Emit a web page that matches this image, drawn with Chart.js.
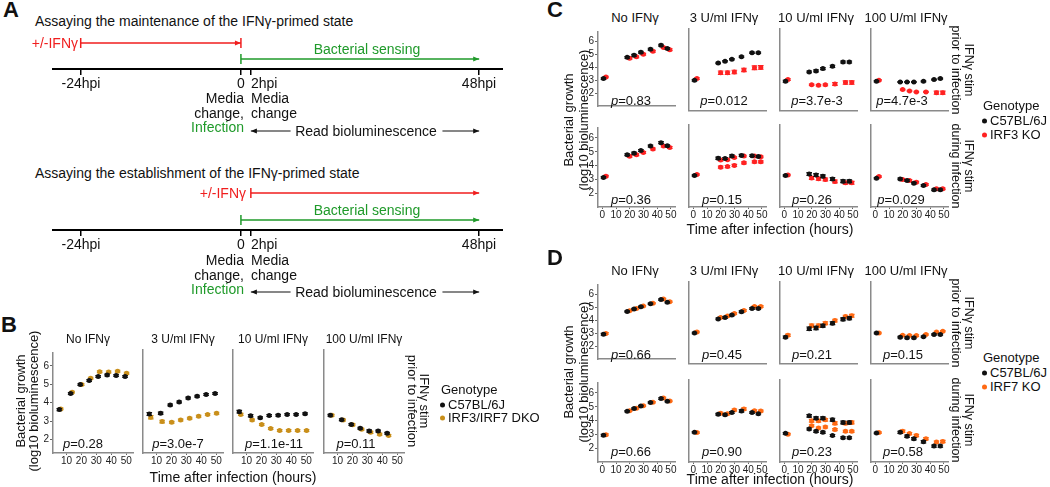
<!DOCTYPE html>
<html>
<head>
<meta charset="utf-8">
<script src="https://cdn.jsdelivr.net/npm/chart.js@4.4.1/dist/chart.umd.min.js"></script>
<style>
  body { margin: 0; width: 1050px; height: 487px; overflow: hidden; position: relative; background: #fff;
         font-family: "Liberation Sans", Arial, sans-serif; color: #111; }
  canvas { position: absolute; }
  .t { position: absolute; white-space: pre; line-height: 1; }
  .dot { display: inline-block; width: 5px; height: 5px; border-radius: 50%; margin-right: 3px; vertical-align: middle; }
</style>
</head>
<body>
<script>
// ---------- panel A: timelines, in hours post infection ----------
const hpiTicks = [-24, 0, 2, 48];
const hpiTickLabels = ['-24hpi', '0', '2hpi', '48hpi'];
const timelineRange = [-28.3, 52.8];
const maintIfn = [-24, 0];
const establishIfn = [2, 48];
const sensing = [0, 48];
const readLeft = [2, 10];
const readRight = [40.6, 48];

// ---------- panels B-D ----------
const conditions = ['No IFNγ', '3 U/ml IFNγ', '10 U/ml IFNγ', '100 U/ml IFNγ'];

// B: IFNγ before infection, C57BL/6J vs IRF3/IRF7 DKO
const bHours = [5.7, 13.3, 19.7, 25.7, 31.7, 37.7, 43.7, 49.7];
const bWt = [
  [3.62, 4.50, 4.98, 5.20, 5.42, 5.50, 5.48, 5.42],
  [3.32, 3.36, 3.80, 3.96, 4.16, 4.26, 4.35, 4.40],
  [3.44, 3.23, 3.12, 3.24, 3.25, 3.30, 3.30, 3.33],
  [3.25, 3.02, 2.77, 2.57, 2.42, 2.42, 2.30]
];
const bDko = [
  [3.66, 4.57, 4.98, 5.33, 5.68, 5.67, 5.71, 5.60],
  [3.15, 2.92, 2.88, 3.00, 3.10, 3.20, 3.30, 3.36],
  [3.30, 3.00, 2.76, 2.56, 2.45, 2.45, 2.45, 2.45],
  [3.25, 3.00, 2.75, 2.52, 2.35, 2.25, 2.18]
];
const bWtErr = [
  [0.06, 0.05, 0.05, 0.05, 0.05, 0.05, 0.05, 0.05],
  [0.08, 0.06, 0.05, 0.05, 0.05, 0.05, 0.05, 0.05],
  [0.07, 0.06, 0.05, 0.05, 0.05, 0.05, 0.05, 0.05],
  [0.05, 0.05, 0.05, 0.05, 0.06, 0.05, 0.05]
];
const bDkoErr = [
  [0.05, 0.05, 0.05, 0.05, 0.05, 0.05, 0.05, 0.05],
  [0.09, 0.07, 0.05, 0.05, 0.05, 0.05, 0.05, 0.05],
  [0.06, 0.05, 0.05, 0.05, 0.05, 0.05, 0.05, 0.05],
  [0.05, 0.05, 0.05, 0.05, 0.06, 0.05, 0.05]
];
const bP = ['0.28', '3.0e-7', '1.1e-11', '0.11'];

// C and D share the sampling times
const cdHours = [1.7, 19, 24, 29, 36, 43.7, 48.3];

// C: C57BL/6J vs IRF3 KO
const cPriorWt = [
  [3.12, 4.76, 4.92, 5.16, 5.39, 5.70, 5.44],
  [3.12, 4.34, 4.45, 4.60, 4.78, 5.06, 5.06],
  [3.05, 3.71, 3.78, 3.94, 4.10, 4.40, 4.40],
  [3.05, 3.00, 3.00, 3.00, 3.05, 3.17, 3.24]
];
const cPriorKo = [
  [3.24, 4.69, 4.80, 5.00, 5.23, 5.53, 5.35],
  [3.24, 3.65, 3.65, 3.70, 3.85, 4.00, 4.02],
  [3.17, 2.80, 2.77, 2.80, 2.86, 2.96, 2.96],
  [3.12, 2.47, 2.37, 2.30, 2.30, 2.25, 2.25]
];
const cPriorWtErr = [
  [0.06, 0.07, 0.07, 0.07, 0.07, 0.07, 0.07],
  [0.06, 0.05, 0.05, 0.05, 0.05, 0.05, 0.05],
  [0.07, 0.06, 0.07, 0.07, 0.08, 0.07, 0.07],
  [0.05, 0.04, 0.04, 0.04, 0.04, 0.04, 0.04]
];
const cPriorKoErr = [
  [0.06, 0.07, 0.07, 0.07, 0.07, 0.07, 0.07],
  [0.06, 0.12, 0.12, 0.12, 0.12, 0.13, 0.13],
  [0.06, 0.05, 0.05, 0.06, 0.10, 0.12, 0.12],
  [0.05, 0.04, 0.04, 0.04, 0.04, 0.11, 0.11]
];
const cDuringWt = [
  [3.14, 4.79, 4.90, 5.09, 5.41, 5.66, 5.43],
  [3.19, 4.40, 4.38, 4.56, 4.60, 4.58, 4.53],
  [3.19, 3.30, 3.23, 3.14, 2.95, 2.80, 2.80],
  [3.00, 2.96, 2.85, 2.66, 2.50, 2.20, 2.20]
];
const cDuringKo = [
  [3.23, 4.67, 4.79, 4.95, 5.20, 5.41, 5.31],
  [3.26, 4.28, 4.30, 4.45, 4.55, 4.55, 4.50],
  [3.23, 3.03, 2.97, 2.92, 2.78, 2.69, 2.69],
  [3.12, 2.92, 2.85, 2.73, 2.57, 2.27, 2.27]
];
const cDuringWtErr = [
  [0.06, 0.07, 0.07, 0.07, 0.07, 0.07, 0.07],
  [0.05, 0.08, 0.07, 0.08, 0.07, 0.06, 0.06],
  [0.05, 0.10, 0.10, 0.10, 0.10, 0.10, 0.10],
  [0.05, 0.06, 0.06, 0.06, 0.06, 0.06, 0.06]
];
const cDuringKoErr = [
  [0.06, 0.07, 0.07, 0.07, 0.07, 0.07, 0.07],
  [0.05, 0.06, 0.06, 0.06, 0.06, 0.06, 0.06],
  [0.05, 0.10, 0.10, 0.10, 0.10, 0.10, 0.10],
  [0.05, 0.06, 0.06, 0.06, 0.06, 0.06, 0.06]
];
// second IRF3 KO experiment, 3 U/ml during infection
const cDuringKoRep2 = [null, 3.78, 3.82, 3.90, 4.08, 4.15, 4.15];
const cPriorP = ['0.83', '0.012', '3.7e-3', '4.7e-3'];
const cDuringP = ['0.36', '0.15', '0.26', '0.029'];

// D: C57BL/6J vs IRF7 KO
const dPriorWt = [
  [2.91, 4.67, 4.86, 5.04, 5.27, 5.59, 5.38],
  [3.14, 4.13, 4.22, 4.40, 4.63, 4.86, 4.86],
  [2.85, 3.44, 3.49, 3.65, 3.83, 4.10, 4.17],
  [3.14, 2.85, 2.80, 2.80, 2.87, 3.03, 3.03]
];
const dPriorKo = [
  [2.98, 4.72, 4.90, 5.09, 5.31, 5.63, 5.43],
  [3.21, 4.22, 4.33, 4.51, 4.72, 5.00, 5.00],
  [2.98, 3.65, 3.65, 3.83, 4.01, 4.29, 4.35],
  [3.14, 2.98, 2.96, 2.96, 3.03, 3.21, 3.26]
];
const dDuringWt = [
  [2.93, 4.68, 4.87, 5.05, 5.30, 5.59, 5.39],
  [3.07, 4.33, 4.29, 4.45, 4.56, 4.45, 4.36],
  [3.00, 4.22, 4.06, 4.06, 3.95, 3.76, 3.76],
  [3.03, 3.07, 2.80, 2.62, 2.41, 2.11, 2.11]
];
const dDuringKo = [
  [2.97, 4.71, 4.90, 5.08, 5.33, 5.63, 5.42],
  [3.05, 4.40, 4.36, 4.63, 4.70, 4.58, 4.56],
  [2.94, 3.87, 3.87, 3.94, 3.71, 3.71, 3.76],
  [3.05, 3.14, 2.98, 2.85, 2.62, 2.39, 2.43]
];
// second experiment, 10 U/ml during infection
const dDuringWtRep2 = [null, 3.30, 3.14, 3.07, 2.85, 2.69, 2.69];
const dDuringKoRep2 = [null, 3.53, 3.37, 3.44, 3.26, 3.14, 3.14];
const dPriorErr = [
  [0.07, 0.05, 0.05, 0.05, 0.05, 0.06, 0.05],
  [0.05, 0.06, 0.06, 0.06, 0.06, 0.06, 0.06],
  [0.08, 0.12, 0.12, 0.10, 0.10, 0.10, 0.10],
  [0.05, 0.06, 0.06, 0.06, 0.05, 0.05, 0.05]
];
const dDuringErr = [
  [0.07, 0.05, 0.05, 0.05, 0.05, 0.06, 0.05],
  [0.05, 0.06, 0.06, 0.07, 0.08, 0.06, 0.06],
  [0.06, 0.09, 0.09, 0.09, 0.10, 0.10, 0.10],
  [0.05, 0.08, 0.08, 0.08, 0.08, 0.08, 0.08]
];
const dPriorP = ['0.66', '0.45', '0.21', '0.15'];
const dDuringP = ['0.66', '0.90', '0.23', '0.58'];

const cBlack = '#111111';
const cGold = '#c98f1a';
const cRed = '#ff2222';
const cOrange = '#ff6a14';
const cAxisRed = '#f01e1e';
const cGreen = '#1f9a2a';

Chart.defaults.font.family = '"Liberation Sans", Arial, sans-serif';
Chart.defaults.color = '#333';

// ---------- helpers ----------
function label(html, x, y, o = {}) {
  const d = document.createElement('div');
  d.className = 't';
  d.innerHTML = html;
  const ax = o.align === 'left' ? '0' : o.align === 'right' ? '-100%' : '-50%';
  d.style.left = x + 'px';
  d.style.top = y + 'px';
  d.style.fontSize = (o.size || 13) + 'px';
  if (o.color) d.style.color = o.color;
  if (o.bold) d.style.fontWeight = 'bold';
  if (o.lh) d.style.lineHeight = o.lh + 'px';
  d.style.textAlign = 'center';
  d.style.transform = 'translate(' + ax + ',-50%)' + (o.rot ? ' rotate(' + o.rot + 'deg)' : '');
  document.body.appendChild(d);
}

function addCanvas(left, top, w, h) {
  const cv = document.createElement('canvas');
  cv.width = w; cv.height = h;
  cv.style.left = left + 'px'; cv.style.top = top + 'px';
  cv.style.width = w + 'px'; cv.style.height = h + 'px';
  document.body.appendChild(cv);
  return cv;
}

// the schematic compresses the pre-infection stretch
const preScale = 1.345;
const u = h => (h < 0 ? h * preScale : h);

const arrowPlugin = {
  id: 'arrows',
  afterDatasetsDraw(chart) {
    const ctx = chart.ctx;
    chart.data.datasets.forEach((ds, i) => {
      const pts = chart.getDatasetMeta(i).data;
      const a = pts[0], b = pts[pts.length - 1];
      ctx.save();
      ctx.strokeStyle = ds.borderColor;
      ctx.fillStyle = ds.borderColor;
      ctx.lineWidth = 1.5;
      const bar = p => { ctx.beginPath(); ctx.moveTo(p.x, p.y - 5); ctx.lineTo(p.x, p.y + 5); ctx.stroke(); };
      const head = (p, dir) => {
        ctx.beginPath();
        ctx.moveTo(p.x, p.y);
        ctx.lineTo(p.x - 6 * dir, p.y - 2.5);
        ctx.lineTo(p.x - 6 * dir, p.y + 2.5);
        ctx.closePath(); ctx.fill();
      };
      if (ds.barStart) bar(a);
      if (ds.barEnd) bar(b);
      if (ds.headEnd) head(b, 1);
      if (ds.headStart) head(a, -1);
      ctx.restore();
    });
  }
};

function timeline(top, height, yMax, lines) {
  const cv = addCanvas(52, top, 451, height);
  new Chart(cv, {
    type: 'scatter',
    data: {
      datasets: lines.map(l => Object.assign({
        data: l.h.map(h => ({ x: u(h), y: l.row })),
        showLine: true, borderColor: l.color, borderWidth: l.w || 1.5, pointRadius: 0
      }, l.flags))
    },
    options: {
      responsive: false, animation: false, events: [],
      layout: { padding: 0 },
      plugins: { legend: { display: false }, tooltip: { enabled: false } },
      scales: {
        x: {
          type: 'linear', min: u(timelineRange[0]), max: u(timelineRange[1]), position: { y: 0 },
          afterBuildTicks: s => { s.ticks = hpiTicks.map(h => ({ value: u(h) })); },
          afterFit: s => { s.height = 0; },
          ticks: { display: false },
          grid: { drawOnChartArea: false, drawTicks: true, tickLength: 5, color: '#000', lineWidth: 1.5 },
          border: { color: '#000', width: 2 }
        },
        y: { display: false, min: yMax - height, max: yMax }
      }
    },
    plugins: [arrowPlugin]
  });
}

const errorBars = {
  id: 'errorBars',
  beforeDatasetDraw(chart, args) {
    const ds = chart.data.datasets[args.index];
    if (!ds.errs) return;
    const ys = chart.scales.y, ctx = chart.ctx;
    ctx.save();
    ctx.strokeStyle = ds.backgroundColor;
    ctx.lineWidth = 1.1;
    args.meta.data.forEach((pt, j) => {
      const v = ds.data[j].y, e = ds.errs[j];
      const y1 = ys.getPixelForValue(v - e), y2 = ys.getPixelForValue(v + e);
      ctx.beginPath();
      ctx.moveTo(pt.x, y1); ctx.lineTo(pt.x, y2);
      ctx.moveTo(pt.x - 2.8, y1); ctx.lineTo(pt.x + 2.8, y1);
      ctx.moveTo(pt.x - 2.8, y2); ctx.lineTo(pt.x + 2.8, y2);
      ctx.stroke();
    });
    ctx.restore();
  }
};

function series(hours, vals, errs, color, shift) {
  const data = [], e = [];
  vals.forEach((v, i) => {
    if (v == null) return;
    data.push({ x: hours[i] + shift, y: v });
    e.push(errs ? errs[i] : 0.07);
  });
  return { data, errs: e, backgroundColor: color, pointRadius: 2.5, pointHoverRadius: 2.5, borderWidth: 0 };
}

function panel(g, left, top, showY, datasets) {
  const padL = 16, padT = 4, padR = 6, padB = 2;
  const xh = g.showX ? 14 : 0;
  const cv = addCanvas(left - padL, top - padT, padL + g.w + padR, padT + g.h + xh + padB);
  new Chart(cv, {
    type: 'scatter',
    data: { datasets },
    options: {
      responsive: false, animation: false, events: [],
      layout: { padding: { left: 0, top: padT, right: padR, bottom: padB } },
      plugins: { legend: { display: false }, tooltip: { enabled: false } },
      scales: {
        x: {
          type: 'linear', min: g.x[0], max: g.x[1],
          afterBuildTicks: s => { s.ticks = g.xTicks.map(v => ({ value: v })); },
          afterFit: s => { s.height = xh; },
          ticks: { display: g.showX, font: { size: 10 }, color: '#222', padding: 0, maxRotation: 0, autoSkip: false },
          grid: { drawOnChartArea: false, drawTicks: g.showX, tickLength: 2, color: '#666' },
          border: { color: '#8a8a8a', width: 1.5 }
        },
        y: {
          type: 'linear', min: g.y[0], max: g.y[1],
          afterBuildTicks: s => { s.ticks = [2, 3, 4, 5, 6].map(v => ({ value: v })); },
          afterFit: s => { s.width = padL; },
          ticks: { display: showY, font: { size: 10 }, color: '#222', padding: 1 },
          grid: { drawOnChartArea: false, drawTicks: showY, tickLength: 3, color: '#666' },
          border: { color: '#8a8a8a', width: 1.5 }
        }
      }
    },
    plugins: [errorBars]
  });
}

// ---------- panel A ----------
label('A', 11, 10, { size: 22, bold: true });
label('Assaying the maintenance of the IFNγ-primed state', 35, 21, { align: 'left', size: 14 });
timeline(35, 106, 34, [
  { h: maintIfn, row: 26, color: cAxisRed, flags: { barStart: true, barEnd: true, headEnd: true } },
  { h: sensing, row: 10, color: cGreen, flags: { barStart: true, headEnd: true } },
  { h: readLeft, row: -62, color: '#111', w: 1.2, flags: { headStart: true } },
  { h: readRight, row: -62, color: '#111', w: 1.2, flags: { headEnd: true } }
]);
label('Assaying the establishment of the IFNγ-primed state', 35, 173, { align: 'left', size: 14 });
timeline(180, 120, 50, [
  { h: establishIfn, row: 37, color: cAxisRed, flags: { barStart: true, headEnd: true } },
  { h: sensing, row: 10, color: cGreen, flags: { barStart: true, headEnd: true } },
  { h: readLeft, row: -62, color: '#111', w: 1.2, flags: { headStart: true } },
  { h: readRight, row: -62, color: '#111', w: 1.2, flags: { headEnd: true } }
]);
label('+/-IFNγ', 78, 43, { align: 'right', size: 14, color: cAxisRed });
label('+/-IFNγ', 246, 193, { align: 'right', size: 14, color: cAxisRed });
[[49, 83, 98, 131], [210, 244, 260, 292]].forEach(([ySense, yTick, yMedia, yRead]) => {
  label('Bacterial sensing', 367, ySense, { size: 14, color: cGreen });
  label(hpiTickLabels[0], 81, yTick, { size: 14 });
  label(hpiTickLabels[1], 241, yTick, { size: 14 });
  label(hpiTickLabels[2], 251, yTick, { size: 14, align: 'left' });
  label(hpiTickLabels[3], 479, yTick, { size: 14 });
  label('Media', 244, yMedia, { size: 14, align: 'right' });
  label('change,', 244, yMedia + 14.5, { size: 14, align: 'right' });
  label('Infection', 244, yMedia + 29, { size: 14, align: 'right', color: cGreen });
  label('Media', 251, yMedia, { size: 14, align: 'left' });
  label('change', 251, yMedia + 14.5, { size: 14, align: 'left' });
  label('Read bioluminescence', 366, yRead, { size: 14 });
});

// ---------- panel B ----------
const gB = { w: 80, h: 103, x: [1, 54.5], xTicks: [10, 20, 30, 40, 50], y: [1.26, 6.7], showX: true };
const bLefts = [53, 143, 233, 324];
bLefts.forEach((l, k) => {
  panel(gB, l, 350, k === 0, [
    series(bHours, bWt[k], bWtErr[k], cBlack, -0.5),
    series(bHours, bDko[k], bDkoErr[k], cGold, 0.5)
  ]);
});
label('B', 9, 325, { size: 22, bold: true });
[88, 183, 273, 364].forEach((x, k) => label(conditions[k], x, 339, { size: 12 }));
[83, 178, 274, 356].forEach((x, k) => label('<i>p</i>=' + bP[k], x, 443, { size: 13 }));
label('Bacterial growth\n(log10 bioluminescence)', 27, 401, { size: 13, lh: 13, rot: -90 });
label('Time after infection (hours)', 233, 477, { size: 14 });
label('IFNγ stim\nprior to infection', 418, 401, { size: 13, lh: 12, rot: 90 });
label('Genotype', 441, 389, { size: 13, align: 'left' });
label('<span class="dot" style="background:' + cBlack + '"></span>C57BL/6J', 440, 404, { size: 13, align: 'left' });
label('<span class="dot" style="background:' + cGold + '"></span>IRF3/IRF7 DKO', 440, 417, { size: 13, align: 'left' });

// ---------- panels C and D ----------
const cdLefts = [598, 689, 780, 871];
const gTop = { w: 77, h: 82, x: [-3.2, 53], xTicks: [0, 10, 20, 30, 40, 50], y: [1.0, 6.72], showX: false };
const gBottom = Object.assign({}, gTop, { showX: true });

cdLefts.forEach((l, k) => {
  panel(gTop, l, 28.5, k === 0, [
    series(cdHours, cPriorWt[k], cPriorWtErr[k], cBlack, -0.9),
    series(cdHours, cPriorKo[k], cPriorKoErr[k], cRed, 0.9)
  ]);
  const during = [
    series(cdHours, cDuringWt[k], cDuringWtErr[k], cBlack, -0.9),
    series(cdHours, cDuringKo[k], cDuringKoErr[k], cRed, 0.9)
  ];
  if (k === 1) during.push(series(cdHours, cDuringKoRep2, null, cRed, 0.9));
  panel(gBottom, l, 125, k === 0, during);

  panel(gTop, l, 282, k === 0, [
    series(cdHours, dPriorWt[k], dPriorErr[k], cBlack, -0.9),
    series(cdHours, dPriorKo[k], dPriorErr[k], cOrange, 0.9)
  ]);
  const dDuring = [series(cdHours, dDuringWt[k], dDuringErr[k], cBlack, -0.9)];
  if (k === 2) dDuring.push(series(cdHours, dDuringWtRep2, null, cBlack, -0.9));
  dDuring.push(series(cdHours, dDuringKo[k], dDuringErr[k], cOrange, 0.9));
  if (k === 2) dDuring.push(series(cdHours, dDuringKoRep2, null, cOrange, 0.9));
  panel(gBottom, l, 379.5, k === 0, dDuring);
});

label('C', 555, 10, { size: 22, bold: true });
label('D', 555, 258, { size: 22, bold: true });
const cdCenters = [635, 724, 816, 906];
cdCenters.forEach((x, k) => {
  label(conditions[k], x, 17, { size: 13 });
  label(conditions[k], x, 270, { size: 13 });
});
[631, 724, 817, 902].forEach((x, k) => label('<i>p</i>=' + cPriorP[k], x, 100, { size: 13 }));
[631, 722, 812, 901].forEach((x, k) => label('<i>p</i>=' + cDuringP[k], x, 199, { size: 13 }));
[631, 722, 812, 903].forEach((x, k) => {
  label('<i>p</i>=' + dPriorP[k], x, 354, { size: 13 });
  label('<i>p</i>=' + dDuringP[k], x, 451, { size: 13 });
});
label('Bacterial growth\n(log10 bioluminescence)', 576, 120, { size: 13, lh: 15, rot: -90 });
label('Bacterial growth\n(log10 bioluminescence)', 576, 372, { size: 13, lh: 15, rot: -90 });
label('Time after infection (hours)', 770, 229, { size: 14 });
label('Time after infection (hours)', 770, 479, { size: 14 });
label('IFNγ stim\nprior to infection', 962, 70, { size: 12.5, lh: 13, rot: 90 });
label('IFNγ stim\nduring infection', 962, 166, { size: 12.5, lh: 13, rot: 90 });
label('IFNγ stim\nprior to infection', 962, 323, { size: 12.5, lh: 13, rot: 90 });
label('IFNγ stim\nduring infection', 962, 420, { size: 12.5, lh: 13, rot: 90 });
label('Genotype', 983, 105, { size: 13, align: 'left' });
label('<span class="dot" style="background:' + cBlack + '"></span>C57BL/6J', 982, 120, { size: 13, align: 'left' });
label('<span class="dot" style="background:' + cRed + '"></span>IRF3 KO', 982, 134, { size: 13, align: 'left' });
label('Genotype', 983, 357, { size: 13, align: 'left' });
label('<span class="dot" style="background:' + cBlack + '"></span>C57BL/6J', 982, 372, { size: 13, align: 'left' });
label('<span class="dot" style="background:' + cOrange + '"></span>IRF7 KO', 982, 386, { size: 13, align: 'left' });
</script>
</body>
</html>
